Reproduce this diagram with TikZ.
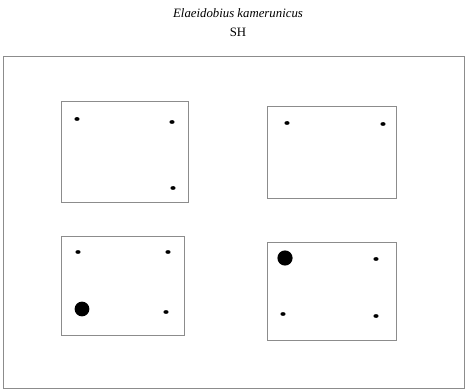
\documentclass[tikz,border=0pt]{standalone}
\usepackage{fontspec}
\setmainfont{Liberation Serif}
\begin{document}
\begin{tikzpicture}[x=1pt,y=-1pt]
\useasboundingbox (0,0) rectangle (466,390);
\tikzset{frame/.style={draw=gray!90,line width=1pt},
  spot/.style={fill=black}}
\node[font=\fontsize{12.8}{14}\selectfont\itshape] (species) at (238,13) {Elaeidobius kamerunicus};
\node[font=\fontsize{12.8}{14}\selectfont] (sh) at (238,32) {SH};
\draw[frame] (3,57) rectangle (464,388);
\draw[frame] (61,102) rectangle (188,203);
\draw[frame] (267,107) rectangle (396,199);
\draw[frame] (61,237) rectangle (184,335);
\draw[frame] (267,243) rectangle (396,340);
\fill[spot] (77,119) ellipse (2.6 and 1.9);
\fill[spot] (172,122) ellipse (2.6 and 1.9);
\fill[spot] (173,188) ellipse (2.6 and 1.9);
\fill[spot] (287,123) ellipse (2.6 and 1.9);
\fill[spot] (383,124) ellipse (2.6 and 1.9);
\fill[spot] (78,252) ellipse (2.6 and 1.9);
\fill[spot] (168,252) ellipse (2.6 and 1.9);
\fill[spot] (82,309) circle (7.4);
\fill[spot] (166,312) ellipse (2.6 and 1.9);
\fill[spot] (285,258) circle (7.6);
\fill[spot] (376,259) ellipse (2.6 and 1.9);
\fill[spot] (283,314) ellipse (2.6 and 1.9);
\fill[spot] (376,316) ellipse (2.6 and 1.9);
\end{tikzpicture}
\end{document}
